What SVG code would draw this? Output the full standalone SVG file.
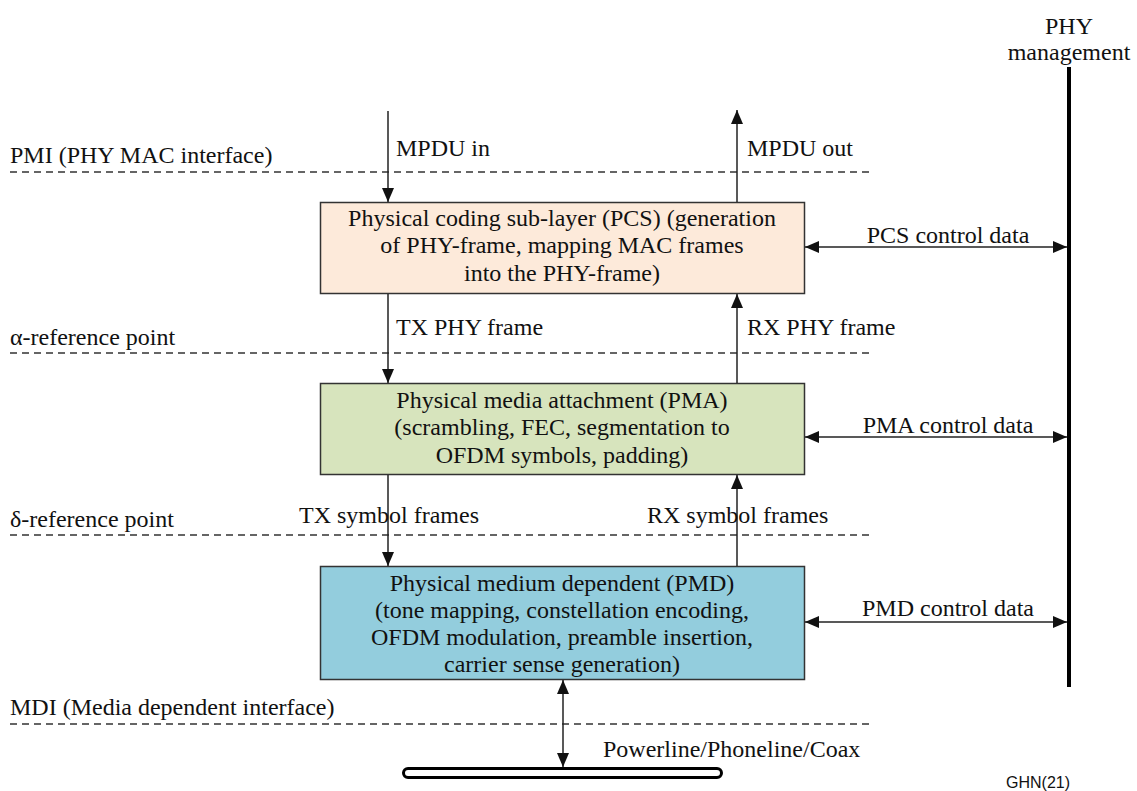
<svg xmlns="http://www.w3.org/2000/svg" width="1137" height="791" viewBox="0 0 1137 791">
<style>
text{font-family:"Liberation Serif","Times New Roman",serif;font-size:24px;fill:#111}
.c{text-anchor:middle}
.box{stroke:#333;stroke-width:1.5}
.ln{stroke:#222;stroke-width:1.5;fill:none}
.dash{stroke:#333;stroke-width:1.3;stroke-dasharray:7 5;fill:none}
.sans{font-family:"Liberation Sans",Arial,sans-serif;font-size:16px}
</style>
<defs>
<marker id="ah" markerUnits="userSpaceOnUse" markerWidth="14" markerHeight="12" viewBox="0 0 14 12" refX="14" refY="6" orient="auto-start-reverse">
<path d="M0,0 L14,6 L0,12 z" fill="#111"/>
</marker>
</defs>
<rect width="1137" height="791" fill="#fff"/>
<g id="refLines">
<line class="dash" x1="10" y1="172" x2="873" y2="172"/>
<line class="dash" x1="10" y1="353" x2="873" y2="353"/>
<line class="dash" x1="10" y1="535" x2="873" y2="535"/>
<line class="dash" x1="10" y1="724" x2="873" y2="724"/>
<text x="10" y="163">PMI (PHY MAC interface)</text>
<text x="10" y="345">α-reference point</text>
<text x="10" y="527">δ-reference point</text>
<text x="10" y="715">MDI (Media dependent interface)</text>
</g>
<g id="pcs">
<rect class="box" x="320.5" y="202.5" width="484" height="91" fill="#fdeada"/>
<text class="c" x="562" y="226">Physical coding sub-layer (PCS) (generation</text>
<text class="c" x="562" y="253">of PHY-frame, mapping MAC frames</text>
<text class="c" x="562" y="281">into the PHY-frame)</text>
</g>
<g id="pma">
<rect class="box" x="320.5" y="383.5" width="484" height="91" fill="#d7e4bd"/>
<text class="c" x="562" y="408">Physical media attachment (PMA)</text>
<text class="c" x="562" y="435">(scrambling, FEC, segmentation to</text>
<text class="c" x="562" y="463">OFDM symbols, padding)</text>
</g>
<g id="pmd">
<rect class="box" x="320.5" y="566.5" width="484" height="113" fill="#93cddd"/>
<text class="c" x="562" y="591">Physical medium dependent (PMD)</text>
<text class="c" x="562" y="618">(tone mapping, constellation encoding,</text>
<text class="c" x="562" y="645">OFDM modulation, preamble insertion,</text>
<text class="c" x="562" y="672">carrier sense generation)</text>
</g>
<g id="phyManagement">
<line x1="1069" y1="67" x2="1069" y2="687" stroke="#000" stroke-width="4"/>
<text class="c" x="1069" y="34">PHY</text>
<text class="c" x="1069" y="60">management</text>
</g>
<g id="medium">
<rect x="403.5" y="768.5" width="318" height="9" rx="4.5" fill="#fff" stroke="#000" stroke-width="3"/>
<text x="603" y="757">Powerline/Phoneline/Coax</text>
</g>
<g id="connectors">
<line class="ln" x1="388" y1="111" x2="388" y2="202" marker-end="url(#ah)"/>
<line class="ln" x1="737" y1="202" x2="737" y2="110" marker-end="url(#ah)"/>
<line class="ln" x1="388" y1="294" x2="388" y2="383" marker-end="url(#ah)"/>
<line class="ln" x1="737" y1="383" x2="737" y2="294" marker-end="url(#ah)"/>
<line class="ln" x1="388" y1="475" x2="388" y2="566" marker-end="url(#ah)"/>
<line class="ln" x1="737" y1="566" x2="737" y2="475" marker-end="url(#ah)"/>
<line class="ln" x1="805" y1="247" x2="1067" y2="247" marker-start="url(#ah)" marker-end="url(#ah)"/>
<line class="ln" x1="805" y1="437" x2="1067" y2="437" marker-start="url(#ah)" marker-end="url(#ah)"/>
<line class="ln" x1="805" y1="622" x2="1067" y2="622" marker-start="url(#ah)" marker-end="url(#ah)"/>
<line class="ln" x1="563" y1="680" x2="563" y2="767" marker-start="url(#ah)" marker-end="url(#ah)"/>
<text x="396" y="156">MPDU in</text>
<text x="747" y="156">MPDU out</text>
<text x="396" y="335">TX PHY frame</text>
<text x="747" y="335">RX PHY frame</text>
<text x="299" y="523">TX symbol frames</text>
<text x="647" y="523">RX symbol frames</text>
<text class="c" x="948" y="243">PCS control data</text>
<text class="c" x="948" y="433">PMA control data</text>
<text class="c" x="948" y="616">PMD control data</text>
</g>
<text class="sans" x="1006" y="788">GHN(21)</text>
</svg>
